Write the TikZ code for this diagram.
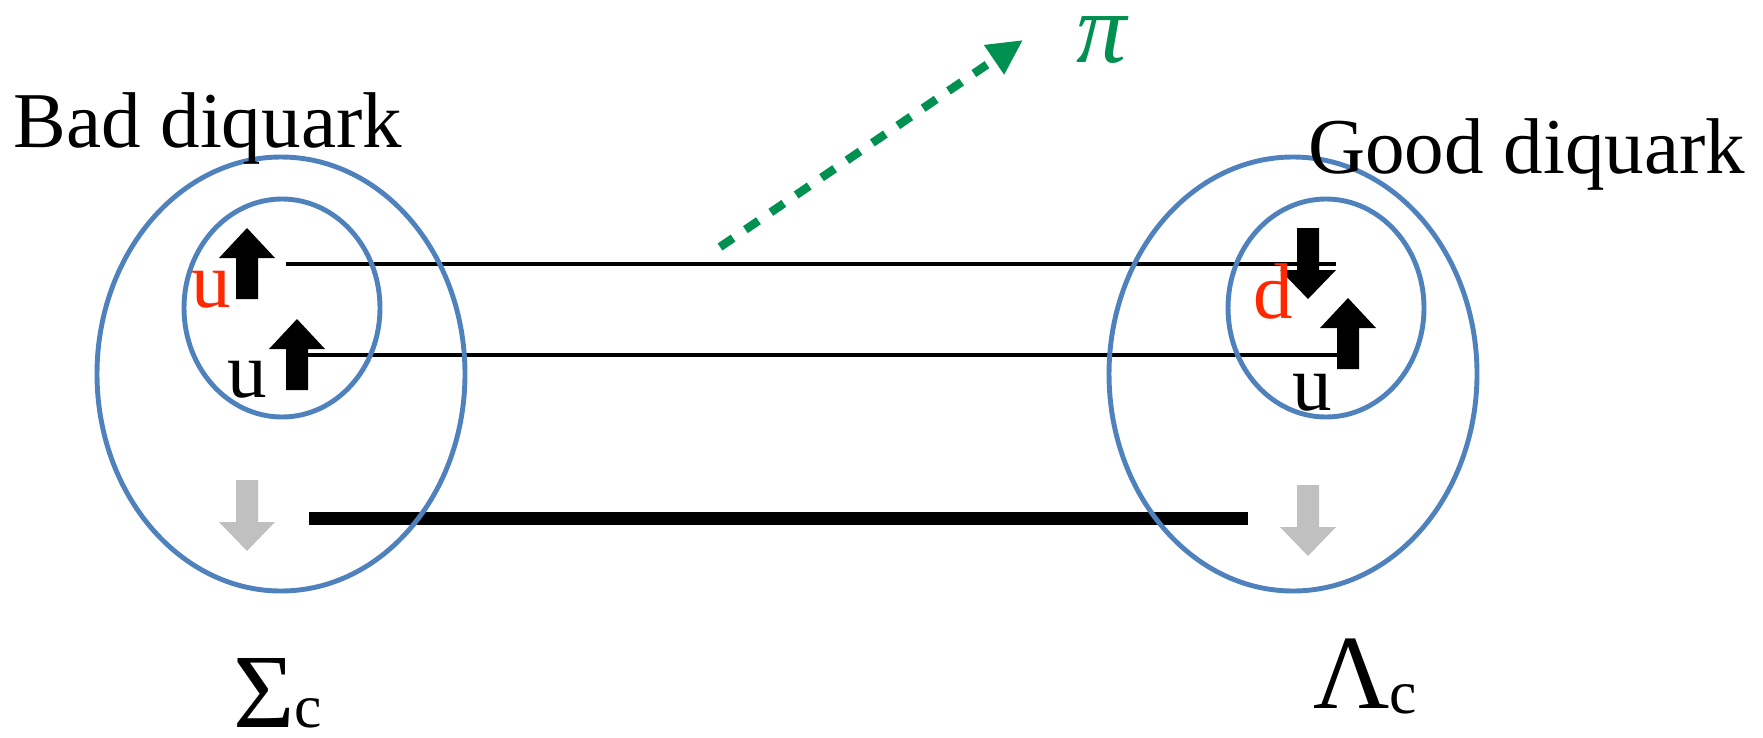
\documentclass[tikz,border=0pt]{standalone}
\usepackage{fontspec}
\setmainfont{Liberation Serif}
\usetikzlibrary{calc, positioning}
\usetikzlibrary{arrows.meta}

\definecolor{ringblue}{RGB}{79,129,189}
\definecolor{quarkred}{RGB}{255,40,0}
\definecolor{piongreen}{RGB}{0,144,80}
\definecolor{spingray}{RGB}{192,192,192}

\begin{document}
\begin{tikzpicture}[x=0.02cm, y=-0.02cm,
    ring/.style={draw=ringblue, line width=2.8pt},
    quarkline/.style={line width=2.5pt},
    heavyline/.style={line width=7.4pt},
    txt/.style={inner sep=0pt, anchor=base west, font=\fontsize{45}{50}\selectfont},
    hadron/.style={inner sep=0pt, anchor=base west, text height=0.7em, text depth=0pt, font=\fontsize{60}{64}\selectfont},
    spinup/.pic={\fill (0,0) -- (28,30) -- (11,30) -- (11,71) -- (-11,71) -- (-11,30) -- (-28,30) -- cycle;},
    spindown/.pic={\fill (0,0) -- (28,-29) -- (11,-29) -- (11,-71) -- (-11,-71) -- (-11,-29) -- (-28,-29) -- cycle;}]
\useasboundingbox (0,0) rectangle (1763,737);

% quark lines
\coordinate (U1a) at (286,264);
\coordinate (U1b) at (1336,264);
\coordinate (U2a) at (300,355);
\coordinate (U2b) at (1337,355);
\coordinate (Ca) at (309,518);
\coordinate (Cb) at (1248,518);
\draw[quarkline] (U1a) -- (U1b);
\draw[quarkline] (U2a) -- (U2b);
\draw[heavyline] (Ca) -- (Cb);

% spins
\pic[fill=black] at (247,228) {spinup};
\pic[fill=black] at (297,319) {spinup};
\pic[fill=black] at (1308,299) {spindown};
\pic[fill=black] at (1348,298) {spinup};
\pic[fill=spingray] at (247,551) {spindown};
\pic[fill=spingray] at (1308,556) {spindown};

% diquarks and baryons
\draw[ring] (281,374) ellipse [x radius=184, y radius=217];
\draw[ring] (282,308) ellipse [x radius=98, y radius=109];
\draw[ring] (1293,374) ellipse [x radius=184, y radius=217];
\draw[ring] (1326,308) ellipse [x radius=98, y radius=109];

% pion emission
\coordinate (P0) at (720,247);
\coordinate (P1) at (1023,40);
\draw[piongreen, line width=4.8pt, dash pattern=on 9pt off 8.5pt,
    -{Triangle[length=20pt, width=19pt]}] (P0) -- (P1);

\node[txt] (bad) at (13,147) {Bad diquark};
\node[txt] (good) at (1308,173) {Good diquark};
\node[txt, quarkred] (u1) at (191,307) {u};
\node[txt] (u2) at (227,397) {u};
\node[txt, quarkred] (d1) at (1253,318) {d};
\node[txt] (u3) at (1292,410) {u};
\node[inner sep=0pt, anchor=base, text height=0.5em, text depth=0pt, piongreen,
    font=\fontsize{57}{60}\selectfont] (pi) at (1103,62) {\textit{π}};
\node[hadron] (sigma) at (233,727) {Σ{\fontsize{35}{40}\selectfont c}};
\node[hadron] (lambda) at (1313,708) {Λ{\fontsize{35}{40}\selectfont\raisebox{-3.4pt}{c}}};
\end{tikzpicture}
\end{document}
